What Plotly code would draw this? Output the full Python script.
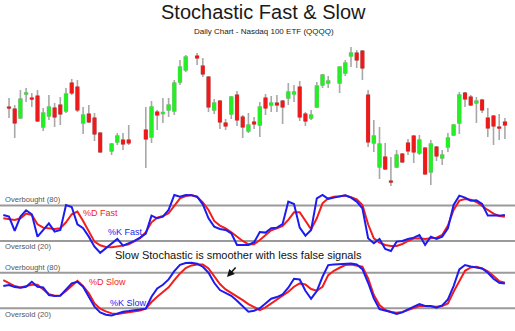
import plotly.graph_objects as go

# ---------------- data ----------------
candle_days = [0, 1, 2, 3, 4, 5, 6, 7, 8, 9, 10, 11, 12, 13, 14, 15, 16,
               18, 19, 20, 21, 24, 25, 26, 27, 28, 29, 30, 31,
               33, 34, 35, 36, 37, 38, 39, 40, 41, 42, 43, 44, 45, 46, 47, 48, 49, 50,
               51, 52, 53, 54, 55, 56, 58, 59, 60, 61, 62, 63, 64, 65, 66, 67, 68, 69,
               70, 71, 72, 73, 74, 75, 76, 77, 78, 79, 80, 81, 82, 83, 84, 85, 86, 87]
opens = [49.3, 49.1, 48.2, 50.6, 50.2, 50.4, 47.3, 48.4, 49.2, 49.5, 48.9, 51.7, 51.3, 47.7, 48.6, 48.2, 46.7,
         44.9, 45.8, 46.0, 46.0, 47.0, 46.3, 48.8, 48.65, 49.0, 48.9, 51.8, 53.0,
         54.4, 53.4, 52.3, 49.0, 49.9, 47.7, 48.6, 50.5, 48.3, 46.9, 47.8, 47.5, 50.2, 49.5, 49.7, 49.9, 50.2, 50.6,
         51.3, 48.6, 48.2, 49.3, 51.5, 51.7, 51.7, 52.7, 54.4, 54.7, 54.9, 50.5, 45.7, 43.3, 44.3, 41.9, 43.3, 44.6,
         45.7, 46.4, 44.7, 45.2, 42.8, 45.3, 44.2, 45.3, 46.5, 47.7, 50.7, 50.3, 49.7, 50.0, 48.2, 48.4, 47.3, 47.8]
highs = [50.2, 49.5, 51.0, 51.2, 50.7, 51.0, 49.2, 50.5, 49.7, 50.3, 51.2, 52.1, 52.0, 49.3, 49.5, 48.7, 46.7,
         45.7, 46.7, 46.7, 47.5, 49.3, 49.9, 49.0, 50.2, 50.2, 52.0, 54.0, 54.5,
         54.7, 54.2, 52.4, 50.1, 50.0, 48.1, 50.4, 50.9, 48.5, 48.7, 48.3, 49.8, 50.6, 50.4, 50.5, 50.0, 51.7, 51.5,
         51.9, 48.8, 49.0, 51.8, 52.6, 52.4, 53.3, 54.0, 55.3, 55.0, 55.0, 51.0, 48.0, 47.3, 45.7, 44.3, 45.0, 44.7,
         46.1, 46.5, 46.5, 45.2, 46.0, 45.4, 45.0, 46.7, 47.6, 50.8, 50.8, 50.5, 50.3, 50.1, 49.2, 48.5, 48.6, 48.2]
lows = [48.2, 46.2, 48.2, 49.8, 49.3, 47.8, 46.9, 48.0, 47.3, 47.5, 48.7, 50.5, 48.8, 46.6, 47.7, 45.9, 44.8,
        44.5, 45.5, 45.0, 45.5, 43.2, 45.7, 47.0, 47.7, 48.3, 48.5, 51.5, 52.8,
        53.5, 52.3, 48.8, 48.6, 47.1, 47.0, 48.1, 47.4, 46.2, 46.7, 47.1, 46.3, 48.5, 48.8, 48.8, 47.6, 49.5, 49.8,
        47.9, 47.4, 48.0, 49.2, 51.2, 51.2, 50.7, 52.4, 53.3, 53.2, 52.0, 45.3, 44.8, 42.1, 43.0, 41.4, 43.2, 43.7,
        44.5, 43.7, 44.5, 42.6, 41.5, 43.9, 43.5, 44.8, 46.4, 46.6, 49.3, 49.4, 47.7, 48.7, 46.3, 45.5, 46.0, 46.1]
closes = [49.2, 47.7, 50.1, 50.7, 50.1, 47.9, 48.7, 49.3, 48.3, 48.6, 50.6, 50.7, 49.0, 48.5, 47.8, 46.6, 44.8,
          45.6, 46.4, 45.6, 45.7, 46.1, 49.3, 48.5, 48.75, 49.5, 51.7, 53.3, 54.3,
          54.2, 52.6, 49.3, 49.7, 47.8, 47.4, 50.3, 48.0, 47.3, 47.5, 47.6, 49.3, 49.2, 49.7, 49.5, 49.3, 50.8, 50.8,
          48.3, 47.9, 48.5, 51.4, 52.5, 51.9, 53.3, 53.7, 54.7, 54.0, 53.2, 45.8, 46.4, 45.6, 43.1, 41.8, 44.5, 43.8,
          44.9, 44.8, 46.0, 42.6, 45.6, 44.4, 44.5, 46.2, 47.5, 50.5, 50.1, 49.5, 49.9, 49.0, 47.2, 47.4, 47.2, 47.5]

# stochastic series, one value per day starting the day before the first candle
stoch_first_day = -1
fast_k = [63.9, 61.1, 36.9, 61.1, 71.8, 65.1, 27.3, 38.6, 49.8, 35.8, 38.6, 80.8, 77.4, 48.2, 41.4, 27.3,
          10.4, 0.0, 7.6, 14.9, 23.4, 12.1, 16.1, 20.0, 25.6, 32.4, 62.8, 58.3, 61.1, 72.4, 97.7, 94.9,
          97.7, 97.1, 94.9, 81.9, 58.3, 44.2, 40.3, 38.6, 33.0, 13.3, 13.3, 13.3, 17.8, 35.0, 34.1, 41.4,
          42.5, 48.7, 86.5, 82.5, 42.5, 29.0, 38.6, 92.1, 97.7, 91.0, 93.2, 94.9, 97.1, 93.2, 86.5, 75.2,
          24.5, 16.1, 23.4, 6.5, 3.1, 18.9, 20.0, 23.4, 25.6, 30.1, 13.3, 27.3, 23.4, 27.3, 41.4, 80.8,
          96.6, 93.2, 88.1, 88.7, 82.5, 62.8, 62.2, 62.8, 63.9]
fast_d = [58.3, 56.6, 55.5, 58.3, 66.2, 63.9, 48.2, 42.5, 40.8, 40.3, 41.4, 51.5, 65.1, 69.6, 53.8, 35.8,
          18.9, 12.7, 9.9, 9.3, 10.4, 12.1, 14.4, 18.9, 24.5, 34.7, 51.5, 59.4, 62.2, 66.7, 79.7, 92.1,
          96.0, 97.7, 94.3, 85.3, 72.4, 53.8, 45.9, 41.4, 34.7, 27.3, 20.0, 14.4, 14.4, 21.7, 30.2, 38.0,
          41.4, 45.4, 55.5, 68.4, 68.4, 54.4, 39.7, 58.3, 83.6, 92.1, 94.9, 95.5, 96.6, 93.8, 90.4, 80.8,
          48.2, 24.5, 17.2, 13.3, 11.6, 11.6, 14.9, 20.0, 24.0, 24.5, 23.4, 24.5, 25.6, 30.2, 45.9, 72.4,
          88.1, 91.0, 89.8, 85.9, 78.6, 72.4, 66.2, 62.2, 61.1]
slow_k = [57.5, 59.2, 55.8, 54.7, 56.4, 64.8, 56.4, 55.3, 42.4, 40.7, 41.2, 50.8, 62.0, 64.8, 56.4, 39.6,
          22.7, 13.2, 9.3, 8.1, 11.5, 14.3, 15.4, 16.5, 17.7, 19.4, 39.6, 53.6, 59.8, 68.7, 82.7, 93.4,
          96.2, 96.8, 95.1, 90.1, 80.0, 63.1, 50.8, 46.3, 41.2, 32.8, 22.7, 14.3, 16.0, 20.2, 28.3, 36.2,
          39.0, 43.5, 54.7, 69.9, 68.7, 49.7, 36.2, 49.1, 73.2, 92.9, 94.0, 94.5, 95.1, 95.7, 94.0, 86.1,
          63.1, 36.8, 18.8, 16.5, 13.8, 10.4, 13.2, 18.2, 22.7, 27.2, 23.9, 23.9, 21.0, 25.0, 35.1, 57.5,
          85.6, 92.9, 90.6, 88.9, 87.2, 80.0, 69.9, 63.1, 62.0]
slow_d = [67.6, 62.0, 57.5, 55.3, 57.5, 59.8, 59.8, 51.9, 44.0, 41.2, 41.8, 49.1, 57.5, 66.5, 57.5, 45.2,
          28.3, 19.4, 14.9, 11.5, 10.4, 12.1, 13.2, 14.3, 16.5, 19.4, 30.6, 39.6, 48.0, 55.3, 67.6, 78.8,
          87.8, 92.3, 94.0, 94.0, 87.2, 73.2, 60.9, 51.9, 46.3, 40.7, 33.9, 27.2, 21.6, 17.1, 21.6, 28.3,
          33.9, 40.7, 48.0, 56.4, 62.0, 60.3, 52.5, 49.7, 56.4, 76.0, 83.3, 88.4, 92.9, 94.0, 92.3, 90.1,
          70.4, 42.4, 25.5, 17.1, 13.8, 12.6, 13.8, 17.1, 21.0, 23.9, 23.9, 22.7, 22.7, 23.9, 28.3, 48.0,
          66.5, 83.3, 88.9, 90.1, 87.2, 82.2, 74.3, 65.9, 63.1]

OVERBOUGHT = 80
OVERSOLD = 20

# ---------------- figure ----------------
FONT = "Liberation Sans, Arial, sans-serif"
GREEN = "#22f022"
RED = "#f01818"
WICK = "#a8a8a8"
BLUE = "#1c1cf0"
LRED = "#f41c1c"
GRID = "#9a9a9a"

stoch_days = list(range(stoch_first_day, stoch_first_day + len(fast_k)))
body_hi = [max(o, c) for o, c in zip(opens, closes)]
body_lo = [min(o, c) for o, c in zip(opens, closes)]

fig = go.Figure()

# wicks
fig.add_trace(go.Candlestick(
    x=candle_days, open=opens, high=highs, low=lows, close=closes,
    increasing=dict(line=dict(color=WICK, width=1.6), fillcolor=WICK),
    decreasing=dict(line=dict(color=WICK, width=1.6), fillcolor=WICK),
    whiskerwidth=0, xaxis="x", yaxis="y", showlegend=False, hoverinfo="skip"))
# bodies
fig.add_trace(go.Candlestick(
    x=candle_days, open=opens, high=body_hi, low=body_lo, close=closes,
    increasing=dict(line=dict(color=GREEN, width=1), fillcolor=GREEN),
    decreasing=dict(line=dict(color=RED, width=1), fillcolor=RED),
    whiskerwidth=0, xaxis="x", yaxis="y", showlegend=False, hoverinfo="skip"))

# fast stochastic
fig.add_trace(go.Scatter(x=stoch_days, y=fast_d, mode="lines", line=dict(color=LRED, width=2),
                         xaxis="x", yaxis="y2", showlegend=False))
fig.add_trace(go.Scatter(x=stoch_days, y=fast_k, mode="lines", line=dict(color=BLUE, width=2),
                         xaxis="x", yaxis="y2", showlegend=False))
# slow stochastic
fig.add_trace(go.Scatter(x=stoch_days, y=slow_d, mode="lines", line=dict(color=LRED, width=2),
                         xaxis="x", yaxis="y3", showlegend=False))
fig.add_trace(go.Scatter(x=stoch_days, y=slow_k, mode="lines", line=dict(color=BLUE, width=2),
                         xaxis="x", yaxis="y3", showlegend=False))

shapes = []
for yref in ("y2", "y3"):
    for lvl in (OVERBOUGHT, OVERSOLD):
        shapes.append(dict(type="line", xref="paper", x0=0, x1=1, yref=yref, y0=lvl, y1=lvl,
                           line=dict(color=GRID, width=2), layer="below"))

ann = []
ann.append(dict(text="Stochastic Fast & Slow", xref="paper", yref="paper", x=0.511, y=0.964,
                showarrow=False, font=dict(family=FONT, size=20, color="#1a1a1a"),
                xanchor="center", yanchor="middle"))
ann.append(dict(text="Daily Chart - Nasdaq 100 ETF (QQQQ)", xref="paper", yref="paper", x=0.512, y=0.906,
                showarrow=False, font=dict(family=FONT, size=8, color="#1a1a1a"),
                xanchor="center", yanchor="middle"))
for yref in ("y2", "y3"):
    ann.append(dict(text="Overbought (80)", xref="paper", yref=yref, x=0.006, y=OVERBOUGHT + 9.5,
                    showarrow=False, font=dict(family=FONT, size=7.6, color="#555555"),
                    xanchor="left", yanchor="middle"))
    ann.append(dict(text="Oversold (20)", xref="paper", yref=yref, x=0.006, y=OVERSOLD - 10,
                    showarrow=False, font=dict(family=FONT, size=7.6, color="#555555"),
                    xanchor="left", yanchor="middle"))
ann.append(dict(text="%D Fast", xref="x", yref="y2", x=16, y=67, showarrow=False,
                font=dict(family=FONT, size=9, color=LRED), xanchor="center", yanchor="middle"))
ann.append(dict(text="%K Fast", xref="x", yref="y2", x=20.4, y=35, showarrow=False,
                font=dict(family=FONT, size=9, color=BLUE), xanchor="center", yanchor="middle"))
ann.append(dict(text="%D Slow", xref="x", yref="y3", x=17.2, y=64, showarrow=False,
                font=dict(family=FONT, size=9, color=LRED), xanchor="center", yanchor="middle"))
ann.append(dict(text="%K Slow", xref="x", yref="y3", x=20.9, y=29, showarrow=False,
                font=dict(family=FONT, size=9, color=BLUE), xanchor="center", yanchor="middle"))
ann.append(dict(text="Slow Stochastic is smoother with less false signals", xref="paper", yref="paper",
                x=0.219, y=0.2296, showarrow=False, font=dict(family=FONT, size=11, color="#111111"),
                xanchor="left", yanchor="middle"))
ann.append(dict(text="", xref="paper", yref="paper", x=0.4408, y=0.1631, ax=10, ay=-11,
                showarrow=True, arrowhead=2, arrowsize=1, arrowwidth=1.5, arrowcolor="#111111"))

axis_off = dict(visible=False, showgrid=False, zeroline=False, fixedrange=True)
fig.update_layout(
    width=515, height=331,
    margin=dict(l=0, r=0, t=0, b=0),
    paper_bgcolor="white", plot_bgcolor="white",
    showlegend=False,
    xaxis=dict(domain=[0, 1], range=[-1.58, 88.77], anchor="y", rangeslider=dict(visible=False), **axis_off),
    yaxis=dict(domain=[0.426, 0.879], range=[41.0, 56.0], anchor="x", **axis_off),
    yaxis2=dict(domain=[0.2266, 0.426], range=[-5.4, 106.1], anchor="x", **axis_off),
    yaxis3=dict(domain=[0.0, 0.2266], range=[-18.2, 108.2], anchor="x", **axis_off),
    shapes=shapes,
    annotations=ann,
)

fig.write_html("out.html")
